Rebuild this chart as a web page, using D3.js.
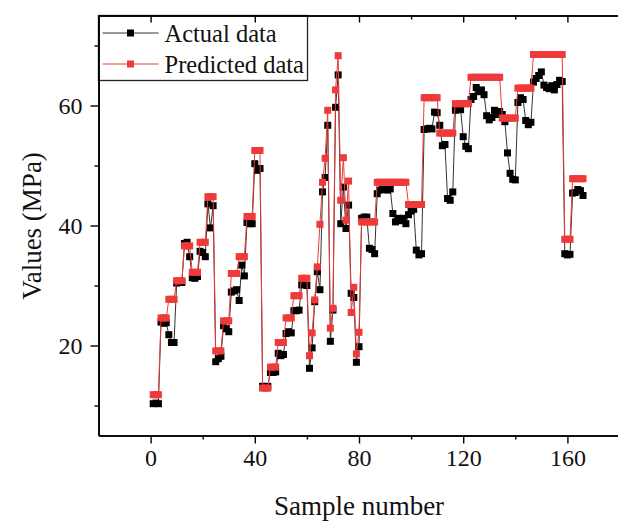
<!DOCTYPE html>
<html>
<head>
<meta charset="utf-8">
<script src="https://cdn.jsdelivr.net/npm/d3@7"></script>
<style>
  html, body { margin: 0; padding: 0; background: #fff; overflow: hidden; }
  svg { display: block; }
  text { font-family: "Liberation Serif", "Times New Roman", serif; }
</style>
</head>
<body>
<div class="graph"></div>
<script>
const width = 618;
const height = 524;
const margin = {top: 15.5, right: -1.5, bottom: 88.5, left: 98.5};
const innerWidth = width - margin.left - margin.right;
const innerHeight = height - margin.top - margin.bottom;

// measured values, samples 1..166
const actual = [
  10.3, 10.4, 10.3, 23.9, 23.7, 23.8, 21.8, 20.5, 20.5, 30.4,
  30.6, 30.5, 37.0, 37.2, 34.8, 31.3, 31.2, 31.5, 35.7, 35.5,
  34.8, 43.6, 39.6, 43.3, 17.3, 17.8, 18.2, 23.3, 22.8, 22.3,
  28.9, 29.1, 29.3, 27.5, 33.4, 31.6, 40.5, 40.3, 40.3, 50.3,
  49.2, 49.5, 13.2, 13.0, 13.2, 15.5, 15.5, 15.6, 18.7, 18.3,
  18.5, 22.0, 22.3, 22.1, 25.8, 25.8, 25.9, 30.1, 30.2, 30.0,
  16.2, 19.6, 27.3, 32.3, 29.3, 45.6, 48.0, 56.7, 20.7, 25.9,
  59.7, 65.1, 40.3, 46.4, 39.5, 43.4, 28.7, 28.0, 17.2, 19.8,
  41.2, 41.4, 41.4, 36.2, 36.0, 35.3, 45.3, 45.9, 46.0, 46.0,
  45.9, 46.1, 42.0, 40.6, 41.2, 40.8, 41.2, 40.3, 41.8, 42.4,
  42.7, 35.9, 35.1, 35.3, 56.0, 56.1, 56.2, 56.1, 58.9, 58.8,
  56.7, 53.3, 53.5, 44.5, 44.2, 45.6, 59.2, 59.5, 59.3, 54.8,
  53.2, 52.8, 61.0, 61.5, 63.0, 62.3, 62.6, 61.8, 58.3, 57.6,
  58.0, 59.2, 58.5, 59.0, 58.5, 57.3, 52.1, 48.7, 47.7, 47.6,
  60.5, 61.3, 61.0, 57.5, 56.8, 57.2, 63.9, 64.5, 65.0, 65.6,
  63.4, 63.0, 62.8, 63.3, 62.6, 63.5, 64.2, 64.0, 35.3, 35.1,
  35.2, 45.4, 45.5, 46.0, 45.8, 45.0
];

const predicted = [
  11.8, 11.8, 11.8, 24.6, 24.6, 24.6, 27.7, 27.7, 27.7, 30.8,
  30.8, 30.8, 36.6, 36.6, 36.6, 32.2, 32.2, 32.2, 37.2, 37.2,
  37.2, 44.8, 44.8, 44.8, 19.1, 19.1, 19.1, 24.1, 24.1, 24.1,
  32.0, 32.0, 32.0, 34.8, 34.8, 34.8, 41.5, 41.5, 41.5, 52.5,
  52.5, 52.5, 12.9, 12.9, 12.9, 16.4, 16.4, 16.4, 20.5, 20.5,
  20.5, 24.6, 24.6, 24.6, 28.3, 28.3, 28.3, 31.2, 31.2, 31.2,
  18.3, 22.1, 27.6, 33.1, 40.2, 47.2, 51.2, 59.2, 22.9, 26.2,
  62.6, 68.3, 44.2, 51.3, 40.9, 47.4, 25.5, 29.7, 18.6, 22.2,
  40.6, 40.6, 40.6, 40.6, 40.6, 40.6, 47.2, 47.2, 47.2, 47.2,
  47.2, 47.2, 47.2, 47.2, 47.2, 47.2, 47.2, 47.2, 43.5, 43.5,
  43.5, 43.5, 43.5, 43.5, 61.3, 61.3, 61.3, 61.3, 61.3, 61.3,
  55.4, 55.4, 55.4, 55.4, 55.4, 55.4, 60.3, 60.3, 60.3, 60.3,
  60.3, 60.3, 64.7, 64.7, 64.7, 64.7, 64.7, 64.7, 64.7, 64.7,
  64.7, 64.7, 64.7, 64.7, 57.9, 57.9, 57.9, 57.9, 57.9, 57.9,
  62.9, 62.9, 62.9, 62.9, 62.9, 62.9, 68.5, 68.5, 68.5, 68.5,
  68.5, 68.5, 68.5, 68.5, 68.5, 68.5, 68.5, 68.5, 37.7, 37.7,
  37.7, 47.8, 47.8, 47.8, 47.8, 47.8
];

const xTicks = [0, 40, 80, 120, 160];
const xMinor = [20, 60, 100, 140];
const yTicks = [20, 40, 60];
const yMinor = [10, 30, 50, 70];

const series = [
  {name: 'Actual data', values: actual, line: '#333', marker: '#000'},
  {name: 'Predicted data', values: predicted, line: '#ee3a3a', marker: '#ee3a3a'}
];

const svg = d3.select('.graph').append('svg')
  .attr('width', width)
  .attr('height', height);

const chart = svg.append('g')
  .attr('transform', `translate(${margin.left}, ${margin.top})`);

const xScale = d3.scaleLinear().domain([-20, 180]).range([0, innerWidth]);
const yScale = d3.scaleLinear().domain([5, 75]).range([innerHeight, 0]);

// series: black first, red on top
series.forEach(s => {
  const pts = s.values.map((v, i) => [i + 1, v]);
  chart.append('path')
    .datum(pts)
    .attr('fill', 'none')
    .attr('stroke', s.line)
    .attr('stroke-width', 1)
    .attr('d', d3.line().x(d => xScale(d[0])).y(d => yScale(d[1])));
  chart.append('g').selectAll('rect')
    .data(pts)
    .join('rect')
    .attr('x', d => xScale(d[0]) - 3.5)
    .attr('y', d => yScale(d[1]) - 3.5)
    .attr('width', 7)
    .attr('height', 7)
    .attr('fill', s.marker);
});

// legend box
const legend = chart.append('g');
legend.append('rect')
  .attr('x', 0).attr('y', 0)
  .attr('width', 209).attr('height', 65)
  .attr('fill', '#fff')
  .attr('stroke', '#222')
  .attr('stroke-width', 1.3);
series.forEach((s, i) => {
  const ly = 17.5 + i * 31;
  legend.append('line')
    .attr('x1', 4).attr('x2', 60)
    .attr('y1', ly).attr('y2', ly)
    .attr('stroke', s.line).attr('stroke-width', 1);
  legend.append('rect')
    .attr('x', 28.5).attr('y', ly - 3.5)
    .attr('width', 7).attr('height', 7)
    .attr('fill', s.marker);
  legend.append('text')
    .attr('x', 66).attr('y', ly + 9)
    .attr('font-size', 24.5)
    .attr('fill', '#111')
    .text(s.name);
});

// axes
const xAxis = d3.axisBottom(xScale).tickValues(xTicks).tickSize(8).tickSizeOuter(0).tickPadding(5);
const xAxisMinor = d3.axisBottom(xScale).tickValues(xMinor).tickSize(4).tickSizeOuter(0);
const yAxis = d3.axisLeft(yScale).tickValues(yTicks).tickSize(8).tickSizeOuter(0).tickPadding(8);
const yAxisMinor = d3.axisLeft(yScale).tickValues(yMinor).tickSize(4).tickSizeOuter(0);
const topAxis = d3.axisBottom(xScale).tickValues(xTicks).tickSize(7).tickSizeOuter(0);
const topAxisMinor = d3.axisBottom(xScale).tickValues(xMinor.slice(2)).tickSize(4).tickSizeOuter(0);

const styleAxis = g => {
  g.select('.domain').attr('stroke', '#000').attr('stroke-width', 1.6);
  g.selectAll('.tick line').attr('stroke', '#000').attr('stroke-width', 1.4);
  g.selectAll('.tick text')
    .attr('font-family', '"Liberation Serif", "Times New Roman", serif')
    .attr('font-size', 24)
    .attr('fill', '#111');
};
// minor / mirrored ticks carry no labels
const noLabels = g => g.selectAll('.tick text').remove();

chart.append('g').attr('transform', `translate(0, ${innerHeight})`).call(xAxis).call(styleAxis);
chart.append('g').attr('transform', `translate(0, ${innerHeight})`).call(xAxisMinor).call(styleAxis).call(noLabels);
chart.append('g').call(yAxis).call(styleAxis);
chart.append('g').call(yAxisMinor).call(styleAxis).call(noLabels);
chart.append('g').call(topAxis).call(styleAxis).call(noLabels);
chart.append('g').call(topAxisMinor).call(styleAxis).call(noLabels);

// axis titles
svg.append('text')
  .attr('transform', 'translate(41, 226) rotate(-90)')
  .attr('text-anchor', 'middle')
  .attr('font-size', 27)
  .attr('fill', '#111')
  .text('Values (MPa)');

svg.append('text')
  .attr('x', 359)
  .attr('y', 515)
  .attr('text-anchor', 'middle')
  .attr('font-size', 27)
  .attr('fill', '#111')
  .text('Sample number');
</script>
</body>
</html>
